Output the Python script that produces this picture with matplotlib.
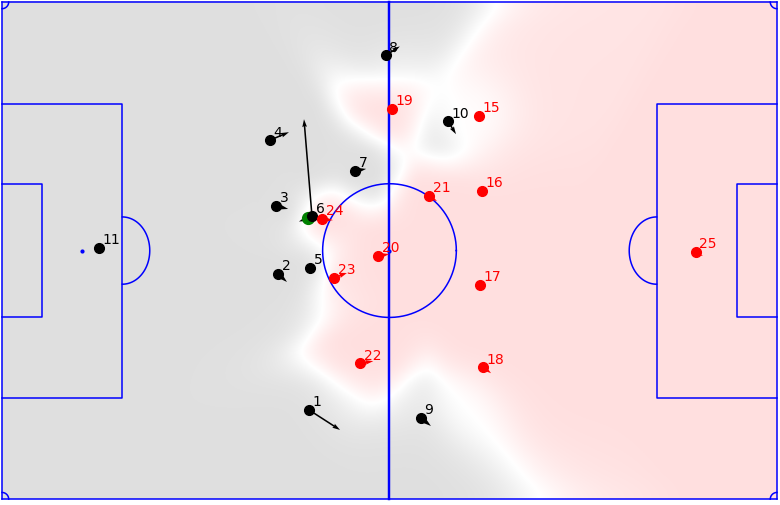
import numpy as np
import matplotlib.pyplot as plt
from matplotlib.colors import LinearSegmentedColormap

# Tracking frame (metres, origin at centre spot) and velocities (m/s)
home_nums = ['1', '2', '3', '4', '5', '6', '7', '8', '9', '10', '11']
home_x = [-11.0, -15.25, -15.5, -16.35, -10.9, -10.6, -4.7, -0.5, 4.3, 8.0, -39.7]
home_y = [-21.8, -3.2, 6.1, 15.1, -2.4, 4.7, 10.9, 26.7, -22.9, 17.7, 0.35]
home_vx = [3.1, 0.9, 1.2, 1.9, 0.1, -0.8, 1.1, 1.4, 1.0, 0.8, 0.0]
home_vy = [-2.0, -0.8, -0.3, 0.8, 0.0, 9.7, 0.2, 0.9, -0.8, -1.3, 0.0]

away_nums = ['15', '16', '17', '18', '19', '20', '21', '22', '23', '24', '25']
away_x = [12.25, 12.65, 12.4, 12.8, 0.35, -1.55, 5.4, -4.0, -7.6, -9.25, 41.9]
away_y = [18.4, 8.15, -4.7, -15.95, 19.35, -0.75, 7.45, -15.4, -3.75, 4.3, -0.2]
away_vx = [0.2, 0.3, 0.3, 0.8, 0.3, 1.1, 0.8, 1.3, 1.3, 1.1, 0.7]
away_vy = [0.0, 0.0, 0.0, -0.6, 0.0, 0.2, -0.5, 0.2, 0.5, -0.1, -0.4]
away_gk = '25'

ball_xy = [-11.15, 4.45]
ball_v = [-0.9, -0.35]

field_dimen = (106.0, 68.0)

# model parameters
reaction_time = 0.7
max_speed = 5.0
tti_sigma = 0.45
lambda_att = 4.3
lambda_def = 4.3
lambda_gk = 3 * lambda_def
ball_speed = 15.0
int_dt = 0.04
max_int_time = 10.0
ttc_att = 3 * np.log(10) * (np.sqrt(3) * tti_sigma / np.pi + 1 / lambda_att)
ttc_def = 3 * np.log(10) * (np.sqrt(3) * tti_sigma / np.pi + 1 / lambda_def)


def time_to_intercept(px, py, vx, vy, targets):
    pos = np.column_stack([px, py]) + np.column_stack([vx, vy]) * reaction_time
    d = np.linalg.norm(targets[:, None, :] - pos[None, :, :], axis=2)
    return reaction_time + d / max_speed


def pitch_control(nx=50, ny=32):
    dx = field_dimen[0] / nx
    dy = field_dimen[1] / ny
    xg = np.arange(nx) * dx - field_dimen[0] / 2 + dx / 2
    yg = np.arange(ny) * dy - field_dimen[1] / 2 + dy / 2
    XX, YY = np.meshgrid(xg, yg)
    targets = np.column_stack([XX.ravel(), YY.ravel()])

    ball_time = np.linalg.norm(targets - np.array(ball_xy), axis=1) / ball_speed
    tti_att = time_to_intercept(home_x, home_y, home_vx, home_vy, targets)
    tti_def = time_to_intercept(away_x, away_y, away_vx, away_vy, targets)
    tau_att = tti_att.min(axis=1)
    tau_def = tti_def.min(axis=1)

    lam_def = np.array([lambda_gk if n == away_gk else lambda_def for n in away_nums])
    mask_att = (tti_att - tau_att[:, None]) < ttc_att
    mask_def = (tti_def - tau_def[:, None]) < ttc_def

    k = np.pi / np.sqrt(3.0) / tti_sigma
    p_att = np.zeros(len(targets))
    p_def = np.zeros(len(targets))
    for step in range(int(max_int_time / int_dt)):
        T = ball_time + step * int_dt
        pa = mask_att / (1 + np.exp(-k * (T[:, None] - tti_att)))
        pd = mask_def / (1 + np.exp(-k * (T[:, None] - tti_def)))
        rem = np.clip(1 - p_att - p_def, 0, 1)
        p_att = p_att + (rem[:, None] * pa * lambda_att).sum(axis=1) * int_dt
        p_def = p_def + (rem[:, None] * pd * lam_def[None, :]).sum(axis=1) * int_dt

    p_att[tau_att - np.maximum(ball_time, tau_def) >= ttc_def] = 0.0
    p_att[tau_def - np.maximum(ball_time, tau_att) >= ttc_att] = 1.0
    return p_att.reshape(ny, nx)


def plot_pitch(ax, lc='b', lw=1.1):
    hl = field_dimen[0] / 2
    hw = field_dimen[1] / 2
    yard = 0.9144
    box_w, box_l = 44 * yard, 18 * yard
    area_w, area_l = 20 * yard, 6 * yard
    spot = 12 * yard
    r = 10 * yard
    corner = 1 * yard

    # halfway line, centre circle and spot
    ax.plot([0, 0], [-hw, hw], lc, lw=lw * 1.6)
    t = np.linspace(0, 2 * np.pi, 300)
    ax.plot(r * np.cos(t), r * np.sin(t), lc, lw=lw)
    ax.plot(0, 0, lc + 'o', ms=2)
    for s in [-1, 1]:
        ax.plot([-hl, hl], [s * hw, s * hw], lc, lw=lw)
        ax.plot([s * hl, s * hl], [-hw, hw], lc, lw=lw)
        # penalty box and six yard box
        ax.plot([s * hl, s * (hl - box_l), s * (hl - box_l), s * hl],
                [box_w / 2, box_w / 2, -box_w / 2, -box_w / 2], lc, lw=lw)
        ax.plot([s * hl, s * (hl - area_l), s * (hl - area_l), s * hl],
                [area_w / 2, area_w / 2, -area_w / 2, -area_w / 2], lc, lw=lw)
        ax.plot(s * (hl - spot), 0, lc + 'o', ms=2)
        # the D
        ang = np.linspace(-np.pi / 2, np.pi / 2, 100)
        ax.plot(s * (hl - box_l - 3.75 * np.cos(ang)), 4.6 * np.sin(ang), lc, lw=lw)
        # corner arcs
        ca = np.linspace(0, np.pi / 2, 30)
        for sy in [-1, 1]:
            ax.plot(s * (hl - corner * np.cos(ca)), sy * (hw - corner * np.sin(ca)), lc, lw=lw)


surface = pitch_control()

fig = plt.figure(figsize=(7.8, 5.05), dpi=100)
ax = fig.add_axes([0, 0, 1, 1])
ax.axis('off')

cmap = LinearSegmentedColormap.from_list('pc', ['#ffdfdf', '#ffffff', '#dfdfdf'])
ax.imshow(surface, extent=(-53, 53, -34, 34), origin='lower', interpolation='spline36',
          vmin=0.0, vmax=1.0, cmap=cmap, zorder=0)

plot_pitch(ax)

# ball (under the players)
ax.quiver(ball_xy[0], ball_xy[1], ball_v[0], ball_v[1], color='k', scale_units='inches',
          scale=10., width=0.002, headlength=5, headwidth=3, zorder=3)
ax.plot(ball_xy[0], ball_xy[1], 'go', ms=8.5, zorder=4)

for xs, ys, vxs, vys, nums, c in [(home_x, home_y, home_vx, home_vy, home_nums, 'k'),
                                  (away_x, away_y, away_vx, away_vy, away_nums, 'r')]:
    ax.plot(xs, ys, c + 'o', ms=7, zorder=5)
    ax.quiver(xs, ys, vxs, vys, color=c, scale_units='inches', scale=10., width=0.002,
              headlength=5, headwidth=3, zorder=5)
    for x, y, n in zip(xs, ys, nums):
        ax.text(x + 0.5, y + 0.5, n, fontsize=10, color=c, zorder=6)

ax.set_xlim(-53 - 2 / 7.311, -53 - 2 / 7.311 + 780 / 7.311)
ax.set_ylim(34 + 2 / 7.311 - 505 / 7.311, 34 + 2 / 7.311)
ax.set_aspect('auto')

fig.savefig('out.png', dpi=100)
